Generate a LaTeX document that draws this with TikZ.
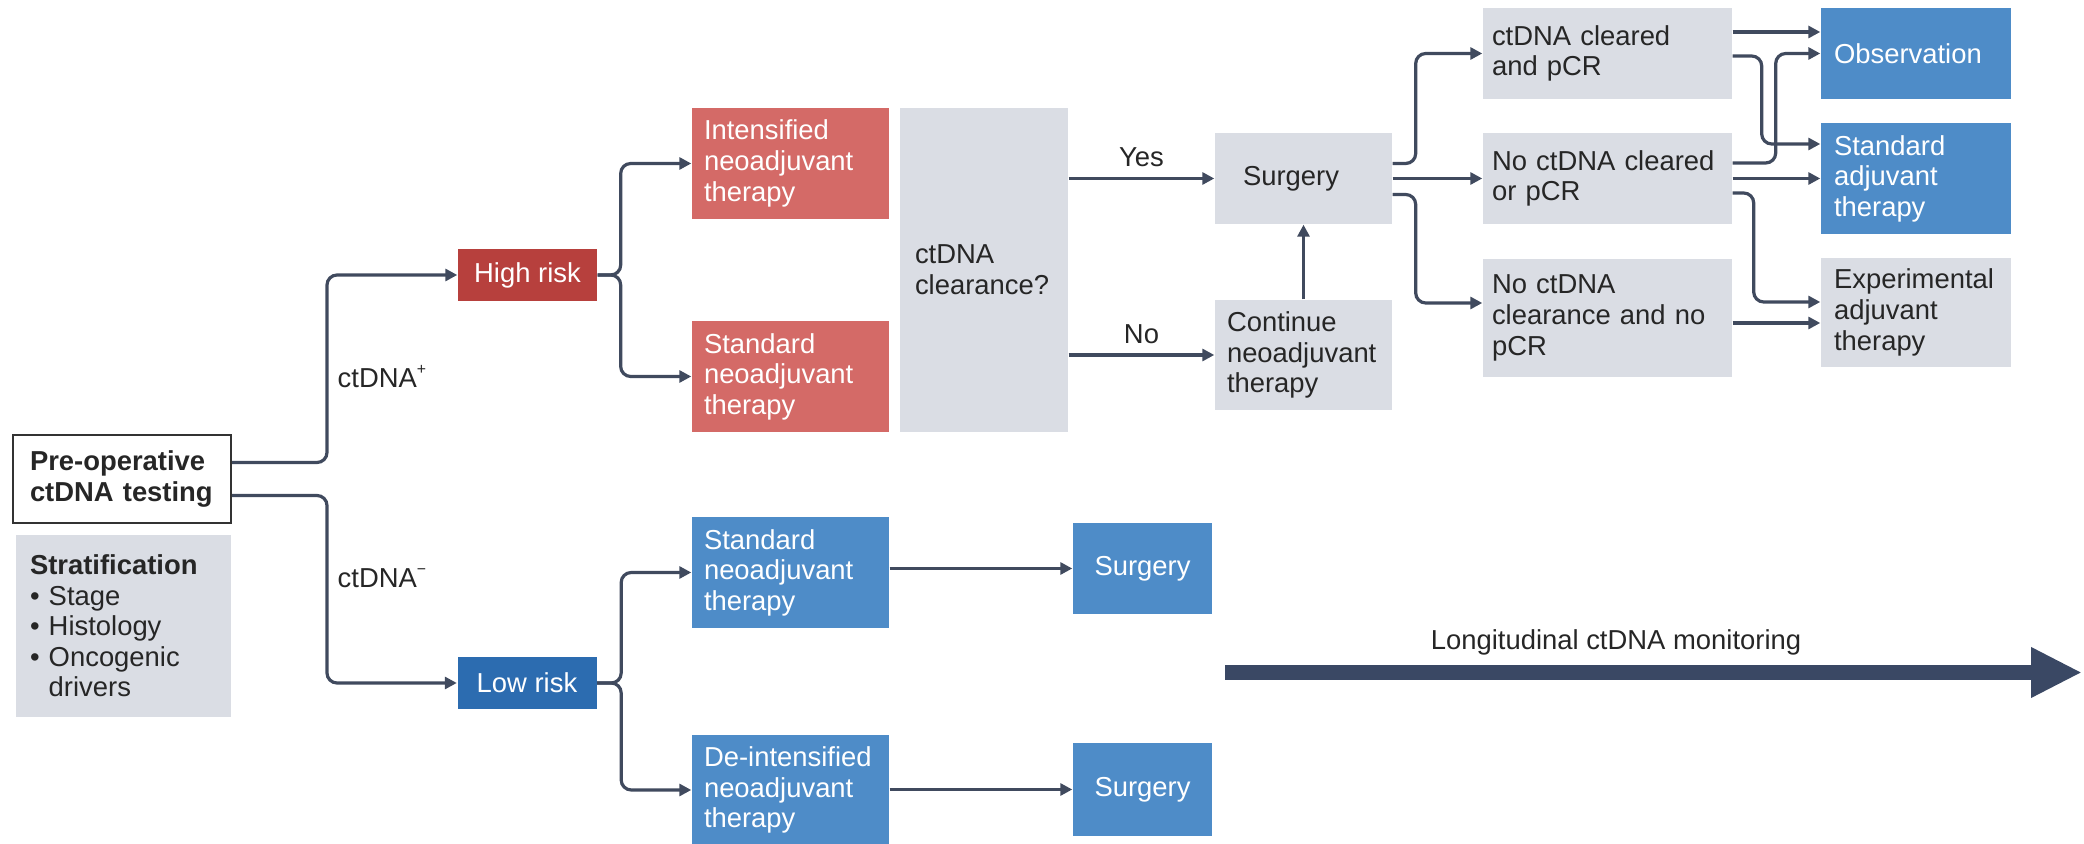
\documentclass[tikz,border=0pt]{standalone}
\usepackage{fontspec}
\setmainfont{Liberation Sans}
\usepackage{tikz}
\usetikzlibrary{arrows.meta, calc}

\definecolor{riskred}{HTML}{B7403D}
\definecolor{therapyred}{HTML}{D46A67}
\definecolor{riskblue}{HTML}{2C6CB0}
\definecolor{therapyblue}{HTML}{4E8CC8}
\definecolor{panelgrey}{HTML}{DADDE4}
\definecolor{linegrey}{HTML}{404A5E}
\definecolor{arrowblue}{HTML}{3A4864}

\newcommand{\smallsup}[1]{\raisebox{0.9ex}{\fontsize{4.5}{5}\selectfont #1}}

\tikzset{
  txt/.style={font=\fontsize{7.8}{8.7}\selectfont, inner sep=0pt, text=black!85},
  dims/.style n args={3}{text width=#1, inner xsep=#2, minimum height=#3},
  box/.style={txt, rectangle, align=left, inner ysep=0pt},
  greybox/.style={box, fill=panelgrey},
  redbox/.style={box, fill=therapyred, text=white},
  bluebox/.style={box, fill=therapyblue, text=white},
  riskbox/.style={box, align=center, text=white, minimum width=1.39cm, minimum height=0.52cm},
  conn/.style={draw=linegrey, line width=0.32mm, rounded corners=1mm, -{Triangle[length=1.2mm,width=1.2mm]}},
}

\begin{document}
\begin{tikzpicture}
\useasboundingbox (0,0) rectangle (20.84,-8.44);

\node[box, draw=black!80, line width=0.2mm, dims={1.84cm}{0.17cm}{0.88cm}, font=\fontsize{7.8}{8.7}\selectfont\bfseries] (preop) at (1.22,-4.79) {Pre-operative\\ctDNA testing};
\node[greybox, dims={1.87cm}{0.14cm}{1.82cm}] (strat) at (1.235,-6.26) {\textbf{Stratification}\\\textbullet\ Stage\\\textbullet\ Histology\\\textbullet\ Oncogenic\\\hphantom{\textbullet\ }drivers};

\node[riskbox, fill=riskred] (high) at (5.275,-2.75) {High risk};
\node[riskbox, fill=riskblue] (low) at (5.27,-6.83) {Low risk};
\node[txt, anchor=west] (pos) at (3.37,-3.77) {ctDNA\smallsup{+}};
\node[txt, anchor=west] (neg) at (3.37,-5.78) {ctDNA\smallsup{−}};

\node[redbox, dims={1.73cm}{0.12cm}{1.11cm}] (intens) at (7.905,-1.635) {Intensified\\neoadjuvant\\therapy};
\node[redbox, dims={1.73cm}{0.12cm}{1.11cm}] (stdred) at (7.905,-3.765) {Standard\\neoadjuvant\\therapy};
\node[greybox, dims={1.38cm}{0.15cm}{3.24cm}] (clear) at (9.84,-2.70) {ctDNA\\clearance?};
\node[greybox, dims={1.21cm}{0.28cm}{0.91cm}] (surg) at (13.035,-1.785) {Surgery};
\node[greybox, dims={1.53cm}{0.12cm}{1.10cm}] (cont) at (13.035,-3.55) {Continue\\neoadjuvant\\therapy};

\node[greybox, dims={2.31cm}{0.09cm}{0.91cm}] (clrpcr) at (16.075,-0.535) {ctDNA cleared\\and pCR};
\node[greybox, dims={2.31cm}{0.09cm}{0.91cm}] (nocl) at (16.075,-1.785) {No ctDNA cleared\\or pCR};
\node[greybox, dims={2.31cm}{0.09cm}{1.18cm}] (noclr) at (16.075,-3.18) {No ctDNA\\clearance and no\\pCR};

\node[bluebox, dims={1.64cm}{0.13cm}{0.91cm}] (obs) at (19.16,-0.535) {Observation};
\node[bluebox, dims={1.64cm}{0.13cm}{1.11cm}] (stdadj) at (19.16,-1.785) {Standard\\adjuvant\\therapy};
\node[greybox, dims={1.64cm}{0.13cm}{1.09cm}] (expadj) at (19.16,-3.125) {Experimental\\adjuvant\\therapy};

\node[bluebox, dims={1.73cm}{0.12cm}{1.11cm}] (stdblue) at (7.905,-5.725) {Standard\\neoadjuvant\\therapy};
\node[bluebox, dims={1.73cm}{0.12cm}{1.10cm}] (deint) at (7.905,-7.90) {De-intensified\\neoadjuvant\\therapy};
\node[bluebox, align=center, text width=, minimum width=1.39cm, minimum height=0.91cm] (surgA) at (11.425,-5.685) {Surgery};
\node[bluebox, align=center, text width=, minimum width=1.39cm, minimum height=0.93cm] (surgB) at (11.425,-7.895) {Surgery};

\coordinate (monA) at (12.25,-6.725);
\coordinate (monB) at (20.82,-6.725);
\node[txt] (montxt) at (16.16,-6.42) {Longitudinal ctDNA monitoring};

\draw[conn] ([yshift=1.65mm]preop.east) -- ++(0.95,0) |- (high);
\draw[conn] ([yshift=-1.65mm]preop.east) -- ++(0.95,0) |- (low);
\draw[conn] (high.east) -- ++(0.23,0) |- (intens);
\draw[conn] (high.east) -- ++(0.23,0) |- (stdred);
\draw[conn] (low.east) -- ++(0.24,0) |- (stdblue);
\draw[conn] (low.east) -- ++(0.24,0) |- (deint);
\draw[conn] (clear.east |- surg) -- node[txt, above=1mm] (yes) {Yes} (surg);
\draw[conn] (clear.east |- cont) -- node[txt, above=1mm] (no) {No} (cont);
\draw[conn] (cont) -- (surg);
\draw[conn] ([yshift=1.5mm]surg.east) -- ++(0.23,0) |- (clrpcr);
\draw[conn] (surg) -- (nocl);
\draw[conn] ([yshift=-1.6mm]surg.east) -- ++(0.23,0) |- ([yshift=1.5mm]noclr.west);
\draw[conn] ([yshift=2.15mm]clrpcr.east) -- ([yshift=2.15mm]clrpcr.east -| obs.west);
\draw[conn] ([yshift=-0.25mm]clrpcr.east) -- ++(0.29,0) |- ([yshift=3.45mm]stdadj.west);
\draw[conn] ([yshift=1.55mm]nocl.east) -- ++(0.43,0) |- (obs);
\draw[conn] (nocl) -- (stdadj);
\draw[conn] ([yshift=-1.45mm]nocl.east) -- ++(0.21,0) |- ([yshift=1.05mm]expadj.west);
\draw[conn] ([yshift=-0.5mm]noclr.east) -- ([yshift=-0.5mm]noclr.east -| expadj.west);
\draw[conn] (stdblue.east |- surgA) -- (surgA);
\draw[conn] (deint.east |- surgB) -- (surgB);
\draw[arrowblue, line width=1.5mm, -{Triangle[length=5.1mm,width=4.7mm]}] (monA) -- (monB);
\end{tikzpicture}
\end{document}
